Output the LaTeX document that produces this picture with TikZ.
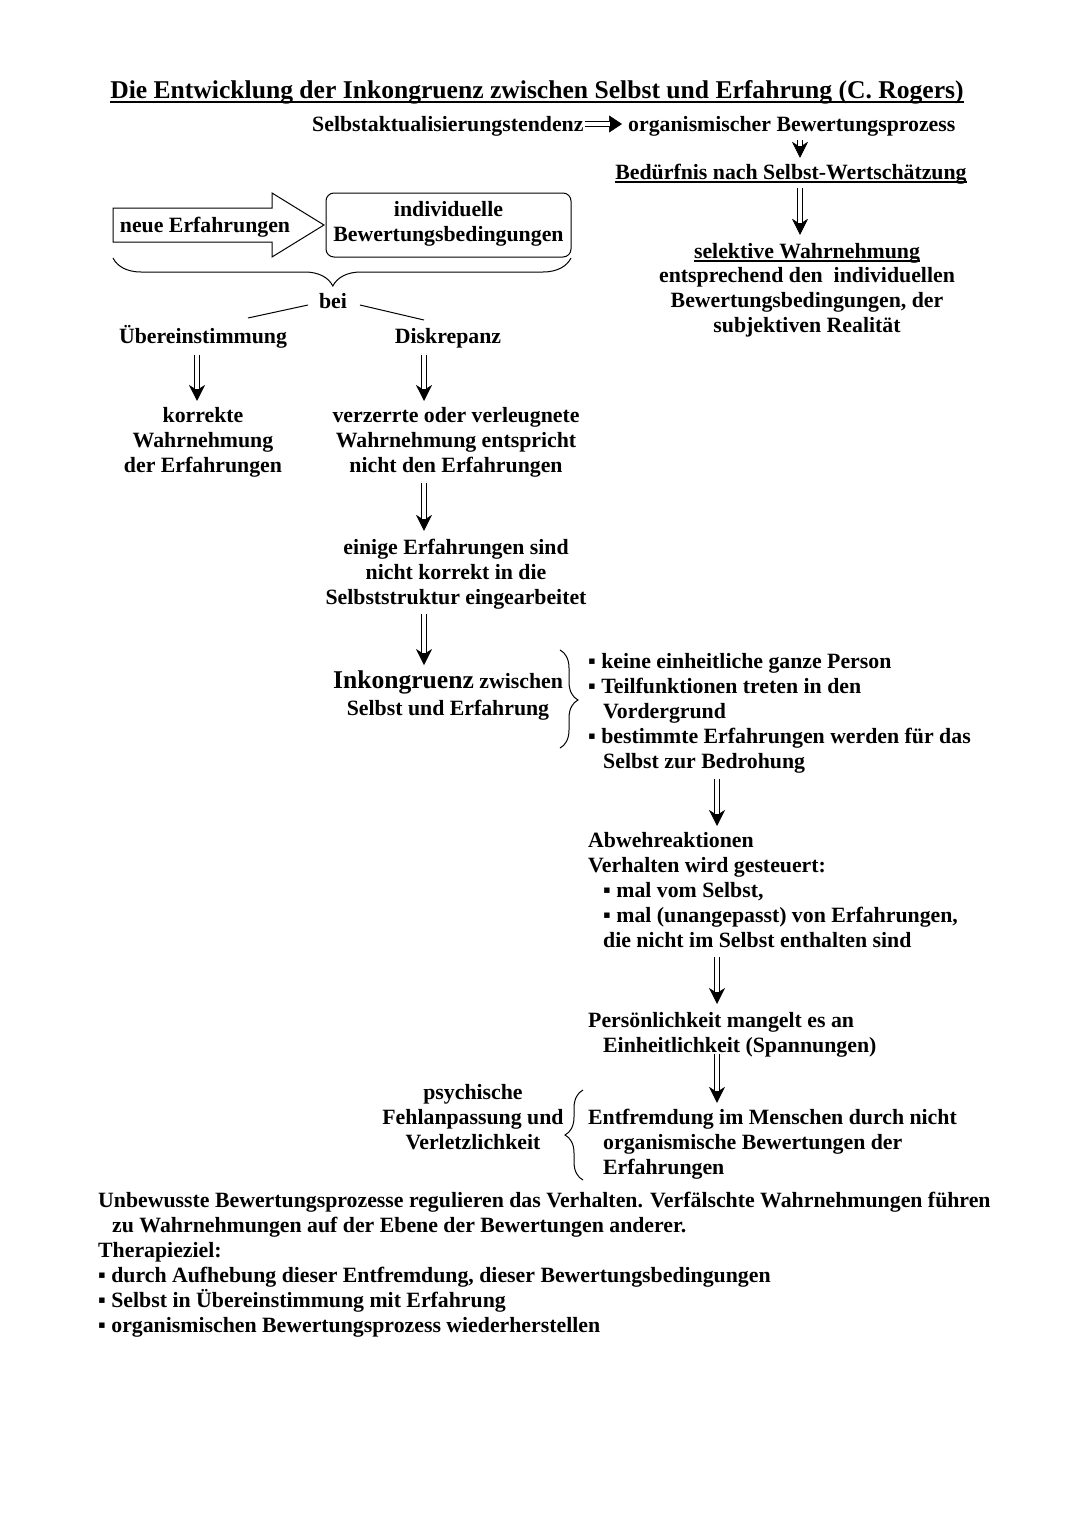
\documentclass[tikz,border=0pt]{standalone}
\usepackage{fontspec}
\setmainfont{Liberation Serif}
\usetikzlibrary{arrows.meta,decorations.pathreplacing}
\newcommand\bodyf{\fontsize{21.8}{25}\selectfont\bfseries}
\newcommand\bigf{\fontsize{25.6}{29}\selectfont\bfseries}
\begin{document}
\begin{tikzpicture}[x=1pt,y=-1pt,
  txt/.style={inner sep=0pt, font=\bodyf, align=center, execute at begin node=\strut, execute at end node=\strut},
  ltxt/.style={txt, align=left, anchor=west},
  dbl/.style 2 args={line width=6pt, shorten <=#1, shorten >=#2,
    -{Stealth[length=16pt,width=16pt,inset=5pt,line width=0.5pt]},
    postaction={draw=white, line width=3.4pt, -, shorten <=#1-0.6pt, shorten >=#2+12pt}},
  bigarr/.style 2 args={line width=6.4pt, shorten <=#1, shorten >=#2,
    -{Triangle[length=13pt,width=17pt,line width=0.5pt]},
    postaction={draw=white, line width=3.6pt, -, shorten <=#1-0.6pt, shorten >=#2+12pt}},
  ul/.style={line width=1.6pt},
  brc/.style={line width=1pt, decorate}]
\fill[white] (0,0) rectangle (1080,1526);
\useasboundingbox (0,0) rectangle (1080,1526);

% title
\node[txt, font=\bigf, anchor=base] (title) at (537,98) {Die Entwicklung der Inkongruenz zwischen Selbst und Erfahrung (C. Rogers)};
\draw[ul] ([yshift=-4pt]title.base west) -- ([yshift=-4pt]title.base east);

% top right chain
\node[txt, anchor=base west] (selbst) at (312,131) {Selbstaktualisierungstendenz};
\node[txt, anchor=base west] (org) at (628,131) {organismischer Bewertungsprozess};
\draw[bigarr={1pt}{6pt}] ([yshift=2pt]selbst.east) -- ([yshift=2pt]org.west);
\node[txt, anchor=base] (bed) at (791,179) {Bedürfnis nach Selbst-Wertschätzung};
\draw[ul] ([yshift=-3pt]bed.base west) -- ([yshift=-3pt]bed.base east);
\coordinate (ax) at (800,0);
\draw[dbl={1.5pt}{3.5pt}] (org.south -| ax) -- (bed.north -| ax);
\node[txt, anchor=base] (sel) at (807,258) {selektive Wahrnehmung};
\draw[ul] ([yshift=-3pt]sel.base west) -- ([yshift=-3pt]sel.base east);
\draw[dbl={1.5pt}{5.5pt}] (bed.south -| ax) -- (sel.north -| ax);
\node[txt] (selx) at (807,304) {entsprechend den\ \ individuellen\\Bewertungsbedingungen, der\\subjektiven Realität};

% left block
\draw[line width=1pt] (113,208) -- (272,208) -- (272,193) -- (324,225) -- (272,257) -- (272,242) -- (113,242) -- cycle;
\node[txt, anchor=base] (neue) at (205,232) {neue Erfahrungen};
\node[txt, draw, line width=1pt, rounded corners=8pt, minimum width=245pt, minimum height=64pt] (indiv) at (448.5,225) {individuelle\\Bewertungsbedingungen};
\draw[brc, decoration={brace, mirror, amplitude=28pt, aspect=0.48}] (113,258) -- (571,258);
\node[txt, anchor=base] (bei) at (333,308) {bei};
\coordinate (beiL) at (308,305);
\coordinate (uebT) at (248,318);
\coordinate (beiR) at (360,305);
\coordinate (diskT) at (424,320);
\draw[line width=1pt] (beiL) -- (uebT);
\draw[line width=1pt] (beiR) -- (diskT);
\node[txt, anchor=base] (ueber) at (203,343) {Übereinstimmung};
\node[txt, anchor=base] (disk) at (448,343) {Diskrepanz};
\node[txt] (korr) at (203,444) {korrekte\\Wahrnehmung\\der Erfahrungen};
\node[txt] (verz) at (456,444) {verzerrte oder verleugnete\\Wahrnehmung entspricht\\nicht den Erfahrungen};
\draw[dbl={4.5pt}{6.5pt}] ([xshift=-6pt]ueber.south) -- ([xshift=-6pt]korr.north);
\coordinate (bx) at (424,0);
\draw[dbl={4.5pt}{6.5pt}] (disk.south -| bx) -- (verz.north -| bx);
\node[txt] (einige) at (456,576) {einige Erfahrungen sind\\nicht korrekt in die\\Selbststruktur eingearbeitet};
\draw[dbl={2.5pt}{8.5pt}] (verz.south -| bx) -- (einige.north -| bx);
\node[txt, anchor=base] (inko1) at (448,688) {{\bigf Inkongruenz} zwischen};
\node[txt, anchor=base] (inko2) at (448,715) {Selbst und Erfahrung};
\draw[dbl={1.5pt}{5pt}] (einige.south -| bx) -- (inko1.north -| bx);
\draw[brc, decoration={brace, amplitude=18pt, aspect=0.51}] (560,650) -- (560,748);

% right column
\node[ltxt] (list1) at (588,715) {▪ keine einheitliche ganze Person\\▪ Teilfunktionen treten in den\\\hspace*{15pt}Vordergrund\\▪ bestimmte Erfahrungen werden für das\\\hspace*{15pt}Selbst zur Bedrohung};
\coordinate (cx) at (717,0);
\node[ltxt] (abw) at (588,894) {Abwehreaktionen\\Verhalten wird gesteuert:\\\hspace*{15pt}▪ mal vom Selbst,\\\hspace*{15pt}▪ mal (unangepasst) von Erfahrungen,\\\hspace*{15pt}die nicht im Selbst enthalten sind};
\draw[dbl={2.5pt}{6.5pt}] (list1.south -| cx) -- (abw.north -| cx);
\node[ltxt] (pers) at (588,1036.5) {Persönlichkeit mangelt es an\\\hspace*{15pt}Einheitlichkeit (Spannungen)};
\draw[dbl={1.5pt}{8.5pt}] (abw.south -| cx) -- (pers.north -| cx);
\node[ltxt] (entf) at (588,1146) {Entfremdung im Menschen durch nicht\\\hspace*{15pt}organismische Bewertungen der\\\hspace*{15pt}Erfahrungen};
\draw[dbl={-6.5pt}{6.5pt}] (pers.south -| cx) -- (entf.north -| cx);
\node[txt] (psych) at (473,1121) {psychische\\Fehlanpassung und\\Verletzlichkeit};
\draw[brc, decoration={brace, amplitude=18pt, aspect=0.5}] (583,1180) -- (583,1090);

% bottom
\node[ltxt] (bottom) at (98,1266) {Unbewusste Bewertungsprozesse regulieren das Verhalten. Verfälschte Wahrnehmungen führen\\\hspace*{14pt}zu Wahrnehmungen auf der Ebene der Bewertungen anderer.\\Therapieziel:\\▪ durch Aufhebung dieser Entfremdung, dieser Bewertungsbedingungen\\▪ Selbst in Übereinstimmung mit Erfahrung\\▪ organismischen Bewertungsprozess wiederherstellen};
\end{tikzpicture}
\end{document}
